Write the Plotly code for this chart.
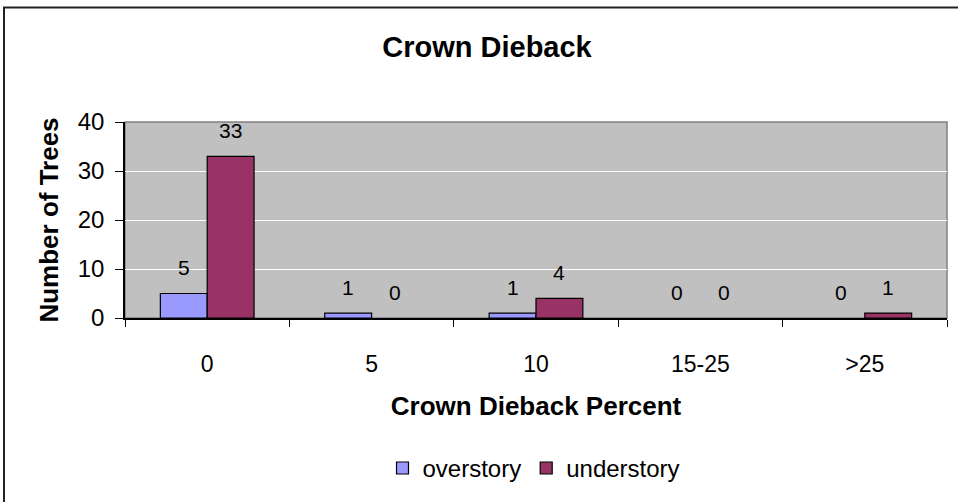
import plotly.graph_objects as go

# Crown dieback classes and tree counts per canopy layer
categories = ["0", "5", "10", "15-25", ">25"]
overstory = [5, 1, 1, 0, 0]
understory = [33, 0, 4, 0, 1]
y_ticks = [0, 10, 20, 30, 40]

W, H = 958, 502
M_L, M_R, M_T, M_B = 125, 11, 122, 178
BARGAP = 0.43

FONT = "Liberation Sans, Arial, sans-serif"


def outline_widths(values):
    # empty classes get no outline, so nothing is drawn for them
    return [1.2 if v else 0 for v in values]


fig = go.Figure()
fig.add_trace(go.Bar(
    x=categories, y=overstory, name="overstory",
    marker=dict(color="#9999FF",
                line=dict(color="#000000", width=outline_widths(overstory))),
))
fig.add_trace(go.Bar(
    x=categories, y=understory, name="understory",
    marker=dict(color="#993366",
                line=dict(color="#000000", width=outline_widths(understory))),
))

# value labels above each bar, shifted to the centre of its bar in the group
plot_w = W - M_L - M_R
plot_h = H - M_T - M_B
bar_px = (1 - BARGAP) * plot_w / len(categories) / 2
annotations = []
for series, sign in ((overstory, -1), (understory, 1)):
    for idx, val in enumerate(series):
        annotations.append(dict(
            x=idx, y=val, xref="x", yref="y", text=str(val),
            showarrow=False, xshift=sign * bar_px / 2, yshift=26,
            yanchor="middle", xanchor="center",
            font=dict(family=FONT, size=21, color="#000000"),
        ))


def px_x(p):
    return (p - M_L) / plot_w


def px_y(p):
    return (H - M_B - p) / plot_h


shapes = [
    # plot-area frame
    dict(type="rect", xref="paper", yref="paper", x0=0, x1=1, y0=0, y1=1,
         line=dict(color="#808080", width=1.5), layer="below"),
    # chart-area border; right and bottom edges fall outside the page
    dict(type="rect", xref="paper", yref="paper",
         x0=px_x(4), x1=px_x(W + 40), y0=px_y(4), y1=px_y(H + 20),
         line=dict(color="#222222", width=2), layer="below"),
]

fig.update_layout(
    width=W, height=H,
    margin=dict(l=M_L, r=M_R, t=M_T, b=M_B),
    paper_bgcolor="#FFFFFF", plot_bgcolor="#C0C0C0",
    barmode="group", bargap=BARGAP, bargroupgap=0,
    font=dict(family=FONT, color="#000000"),
    title=dict(text="<b>Crown Dieback</b>", x=487 / W, xref="container",
               xanchor="center", y=(H - 47) / H, yanchor="middle",
               yref="container",
               font=dict(family=FONT, size=29, color="#000000")),
    xaxis=dict(
        type="category", range=[-0.5, len(categories) - 0.5],
        tickson="boundaries", ticks="outside", ticklen=7,
        tickcolor="#000000", showline=True, linecolor="#000000", linewidth=1.5,
        tickfont=dict(family=FONT, size=23), ticklabelstandoff=25,
        showgrid=False, zeroline=False,
        title=dict(text="<b>Crown Dieback Percent</b>", standoff=20,
                   font=dict(family=FONT, size=26)),
    ),
    yaxis=dict(
        range=[0, 40], tickvals=y_ticks, ticks="outside", ticklen=8,
        tickcolor="#000000", showline=True, linecolor="#000000", linewidth=1.5,
        tickfont=dict(family=FONT, size=24), ticklabelstandoff=6,
        showgrid=True, gridcolor="#FFFFFF", gridwidth=1.2, zeroline=False,
        title=dict(text="<b>Number of Trees</b>", standoff=12,
                   font=dict(family=FONT, size=26)),
    ),
    legend=dict(orientation="h", x=px_x(534), xanchor="center",
                y=px_y(479), yanchor="middle",
                font=dict(family=FONT, size=24), bgcolor="rgba(0,0,0,0)",
                itemwidth=30, tracegroupgap=0),
    annotations=annotations,
    shapes=shapes,
)

fig.write_html("out.html")
